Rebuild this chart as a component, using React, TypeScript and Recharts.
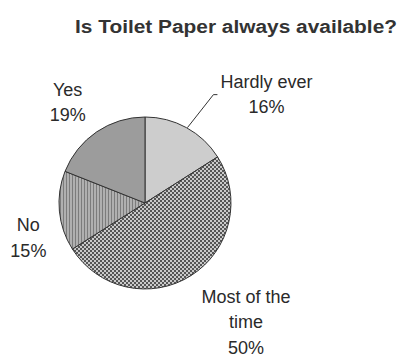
import React from 'react';
import { PieChart, Pie, Cell } from 'recharts';

const TITLE = 'Is Toilet Paper always available?';
const categories = ['Hardly ever', 'Most of the time', 'No', 'Yes'];
const values = [16, 50, 15, 19];

const data = categories.map((name, i) => ({ name, value: values[i] }));

const FILLS = ['#cdcdcd', 'url(#checks)', 'url(#vstripes)', '#9c9c9c'];
// label layout: offset of label centre / first baseline from slice's outer mid-point
const LABEL_OFFSETS = [
  { dx: 80, dy: -40, leader: true },
  { dx: 55, dy: 27, leader: false },
  { dx: -31, dy: 20, leader: false },
  { dx: -29, dy: -36, leader: false },
];
const FONT = '"Liberation Sans", Arial, sans-serif';
const LINE_H = 25.5;
const RAD = Math.PI / 180;

function wrap(text: string, max: number): string[] {
  const words = text.split(' ');
  const lines: string[] = [];
  let cur = '';
  for (const w of words) {
    const next = cur ? cur + ' ' + w : w;
    if (next.length > max && cur) {
      lines.push(cur);
      cur = w;
    } else cur = next;
  }
  if (cur) lines.push(cur);
  return lines;
}

const renderLabel = (props: any) => {
  const { cx, cy, midAngle, outerRadius, index, name, percent } = props;
  const px = cx + outerRadius * Math.cos(-midAngle * RAD);
  const py = cy + outerRadius * Math.sin(-midAngle * RAD);
  const off = LABEL_OFFSETS[index];
  const lx = px + off.dx;
  const ly = py + off.dy;
  const lines = [...wrap(name, 11), `${Math.round(percent * 100)}%`];
  return (
    <g key={`lbl-${index}`}>
      {off.leader && (
        <polyline
          points={`${px + 1},${py} ${lx - 53},${ly + 7} ${lx - 49},${ly + 7}`}
          fill="none"
          stroke="#333"
          strokeWidth={1}
        />
      )}
      {lines.map((t, i) => (
        <text
          key={i}
          x={lx}
          y={ly + i * LINE_H}
          textAnchor="middle"
          fontFamily={FONT}
          fontSize={18}
          fill="#2a2a2a"
        >
          {t}
        </text>
      ))}
    </g>
  );
};

export default function App() {
  return (
    <div style={{ position: 'absolute', left: 0, top: 0, width: 400, height: 358, background: '#fff' }}>
      <svg width={400} height={50} style={{ position: 'absolute', left: 0, top: 0 }}>
        <text
          x={236}
          y={33}
          textAnchor="middle"
          fontFamily={FONT}
          fontWeight="bold"
          fontSize={18}
          fill="#333"
          textLength={322}
          lengthAdjust="spacingAndGlyphs"
        >
          {TITLE}
        </text>
      </svg>
      <div style={{ position: 'absolute', left: 0, top: 0 }}>
        <PieChart width={400} height={358} margin={{ top: 0, right: 0, bottom: 0, left: 0 }}>
          <defs>
            <pattern id="checks" width={4} height={4} patternUnits="userSpaceOnUse">
              <rect width={4} height={4} fill="#cacaca" />
              <rect x={0} y={0} width={2} height={2} fill="#555555" />
              <rect x={2} y={2} width={2} height={2} fill="#555555" />
            </pattern>
            <pattern id="vstripes" width={3} height={3} patternUnits="userSpaceOnUse">
              <rect width={3} height={3} fill="#b0b0b0" />
              <rect x={0} y={0} width={1} height={3} fill="#7c7c7c" />
            </pattern>
          </defs>
          <Pie
            data={data}
            dataKey="value"
            nameKey="name"
            cx={145}
            cy={203}
            outerRadius={86}
            startAngle={90}
            endAngle={-270}
            stroke="#333"
            strokeWidth={1}
            label={renderLabel}
            labelLine={false}
            isAnimationActive={false}
          >
            {data.map((d, i) => (
              <Cell key={d.name} fill={FILLS[i]} />
            ))}
          </Pie>
        </PieChart>
      </div>
    </div>
  );
}
